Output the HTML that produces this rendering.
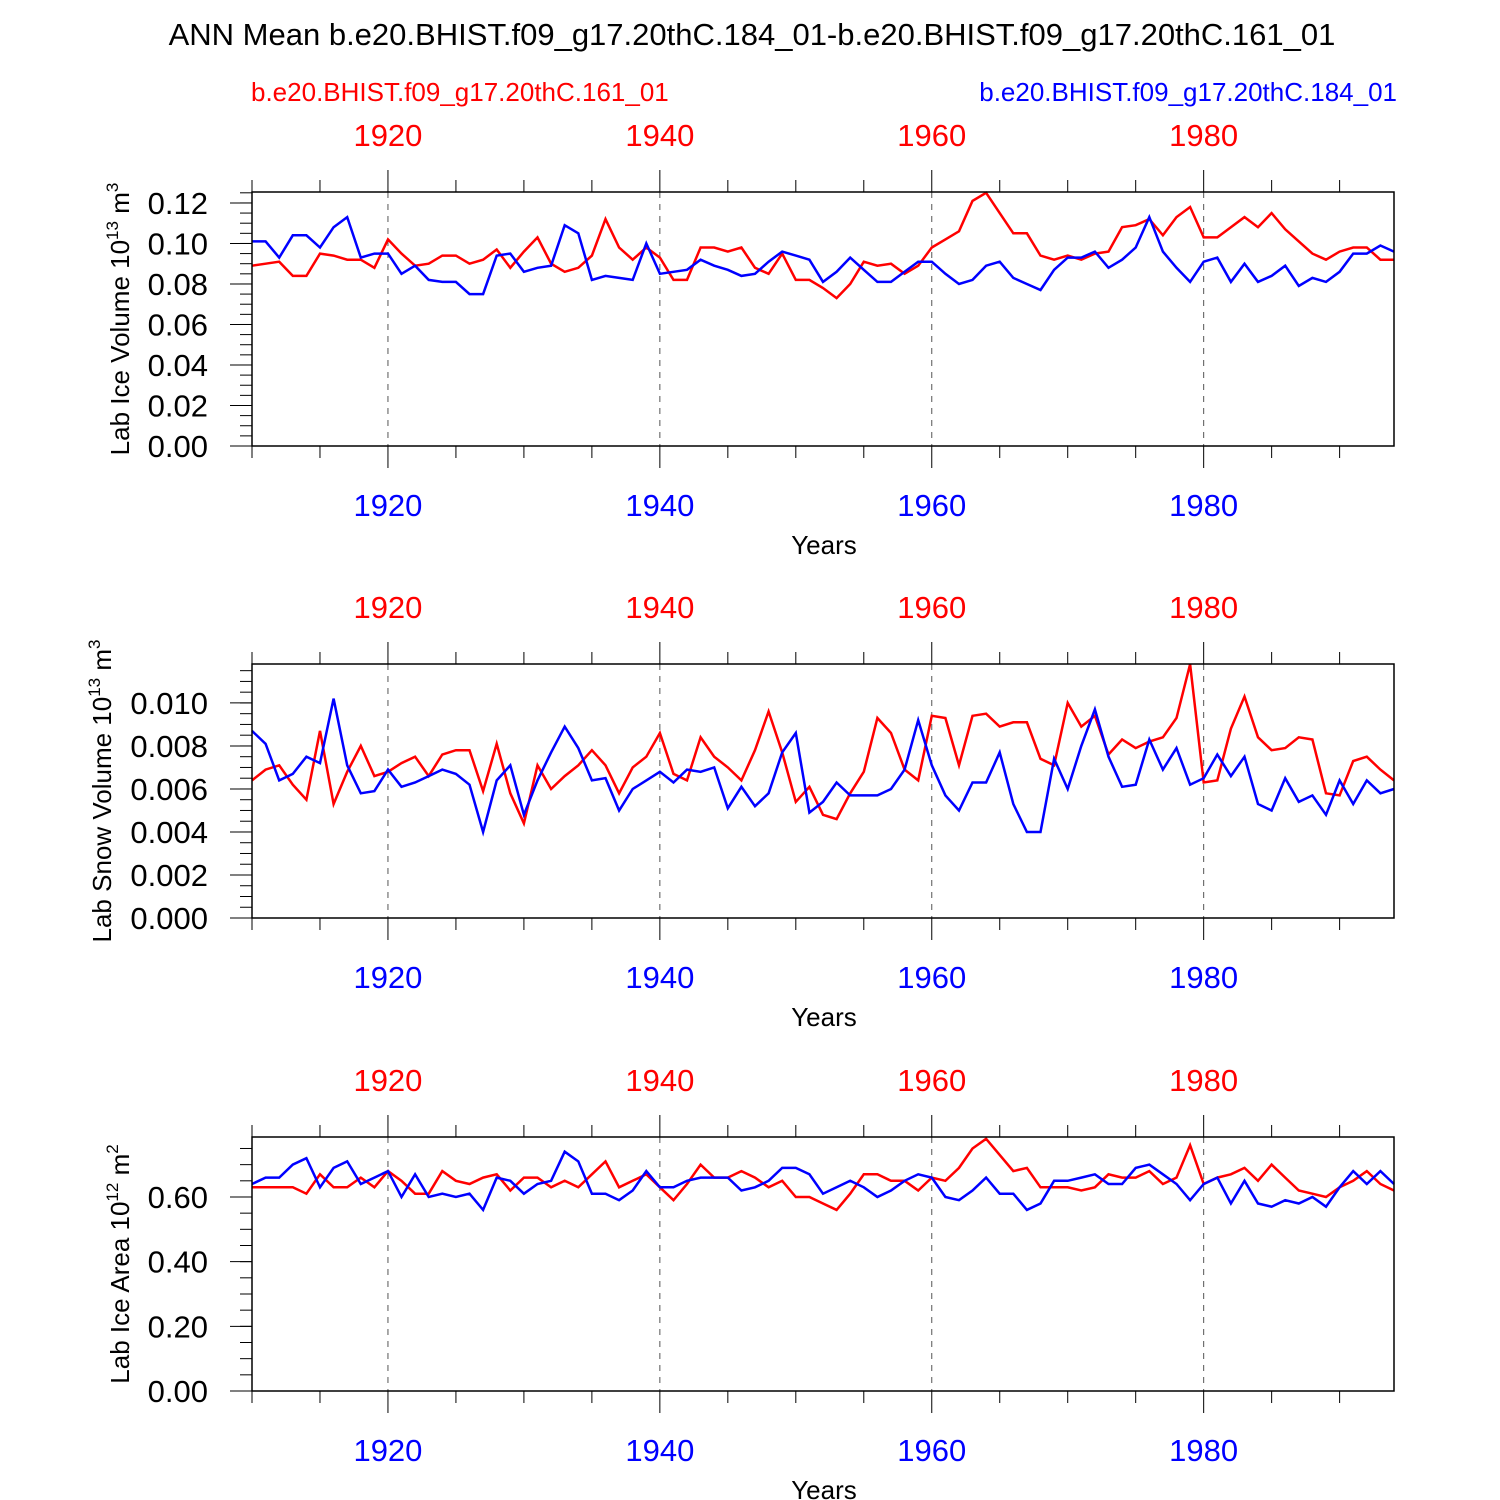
<!DOCTYPE html>
<html><head><meta charset="utf-8"><style>
body{margin:0;background:#fff}
svg{display:block;font-family:"Liberation Sans",Arial,sans-serif}
</style></head><body>
<svg id="chart" width="1500" height="1500" viewBox="0 0 1500 1500">
<text x="752" y="45" text-anchor="middle" font-size="31">ANN Mean b.e20.BHIST.f09_g17.20thC.184_01-b.e20.BHIST.f09_g17.20thC.161_01</text>
<text x="251" y="101" font-size="26" fill="#f00">b.e20.BHIST.f09_g17.20thC.161_01</text>
<text x="1397" y="101" font-size="26" fill="#00f" text-anchor="end">b.e20.BHIST.f09_g17.20thC.184_01</text>
</svg>
<script>
const years=[];for(let y=1910;y<=1994;y++)years.push(y);
const xTicks=[1920,1940,1960,1980];
const iceVolBlue=[.101,.101,.093,.104,.104,.098,.108,.113,.093,.095,
.095,.085,.089,.082,.081,.081,.075,.075,.094,.095,
.086,.088,.089,.109,.105,.082,.084,.083,.082,.100,
.085,.086,.087,.092,.089,.087,.084,.085,.091,.096,
.094,.092,.081,.086,.093,.087,.081,.081,.086,.091,
.091,.085,.080,.082,.089,.091,.083,.080,.077,.087,
.093,.093,.096,.088,.092,.098,.113,.096,.088,.081,
.091,.093,.081,.090,.081,.084,.089,.079,.083,.081,
.086,.095,.095,.099,.096];
const iceVolRed=[.089,.090,.091,.084,.084,.095,.094,.092,.092,.088,
.102,.095,.089,.090,.094,.094,.090,.092,.097,.088,
.096,.103,.090,.086,.088,.094,.112,.098,.092,.098,
.093,.082,.082,.098,.098,.096,.098,.088,.085,.095,
.082,.082,.078,.073,.080,.091,.089,.090,.085,.089,
.098,.102,.106,.121,.125,.115,.105,.105,.094,.092,
.094,.092,.095,.096,.108,.109,.112,.104,.113,.118,
.103,.103,.108,.113,.108,.115,.107,.101,.095,.092,
.096,.098,.098,.092,.092];
const snowBlue=[.0087,.0081,.0064,.0067,.0075,.0072,.0102,.0071,.0058,.0059,
.0069,.0061,.0063,.0066,.0069,.0067,.0062,.0040,.0064,.0071,
.0048,.0064,.0077,.0089,.0079,.0064,.0065,.0050,.0060,.0064,
.0068,.0063,.0069,.0068,.0070,.0051,.0061,.0052,.0058,.0077,
.0086,.0049,.0054,.0063,.0057,.0057,.0057,.0060,.0069,.0092,
.0071,.0057,.0050,.0063,.0063,.0077,.0053,.0040,.0040,.0074,
.0060,.0080,.0097,.0075,.0061,.0062,.0083,.0069,.0079,.0062,
.0065,.0076,.0066,.0075,.0053,.0050,.0065,.0054,.0057,.0048,
.0064,.0053,.0064,.0058,.0060];
const snowRed=[.0064,.0069,.0071,.0062,.0055,.0087,.0053,.0068,.0080,.0066,
.0068,.0072,.0075,.0066,.0076,.0078,.0078,.0059,.0081,.0058,
.0044,.0071,.0060,.0066,.0071,.0078,.0071,.0058,.0070,.0075,
.0086,.0067,.0064,.0084,.0075,.0070,.0064,.0078,.0096,.0077,
.0054,.0061,.0048,.0046,.0058,.0068,.0093,.0086,.0069,.0064,
.0094,.0093,.0071,.0094,.0095,.0089,.0091,.0091,.0074,.0071,
.0100,.0089,.0094,.0076,.0083,.0079,.0082,.0084,.0093,.0118,
.0063,.0064,.0088,.0103,.0084,.0078,.0079,.0084,.0083,.0058,
.0057,.0073,.0075,.0069,.0064];
const areaBlue=[.64,.66,.66,.70,.72,.63,.69,.71,.64,.66,
.68,.60,.67,.60,.61,.60,.61,.56,.66,.65,
.61,.64,.65,.74,.71,.61,.61,.59,.62,.68,
.63,.63,.65,.66,.66,.66,.62,.63,.65,.69,
.69,.67,.61,.63,.65,.63,.60,.62,.65,.67,
.66,.60,.59,.62,.66,.61,.61,.56,.58,.65,
.65,.66,.67,.64,.64,.69,.70,.67,.64,.59,
.64,.66,.58,.65,.58,.57,.59,.58,.60,.57,
.63,.68,.64,.68,.64];
const areaRed=[.63,.63,.63,.63,.61,.67,.63,.63,.66,.63,
.68,.65,.61,.61,.68,.65,.64,.66,.67,.62,
.66,.66,.63,.65,.63,.67,.71,.63,.65,.67,
.63,.59,.64,.70,.66,.66,.68,.66,.63,.65,
.60,.60,.58,.56,.61,.67,.67,.65,.65,.62,
.66,.65,.69,.75,.78,.73,.68,.69,.63,.63,
.63,.62,.63,.67,.66,.66,.68,.64,.66,.76,
.64,.66,.67,.69,.65,.70,.66,.62,.61,.60,
.63,.65,.68,.64,.62];
const p1Ticks=[0,0.02,0.04,0.06,0.08,0.10,0.12];
const p1Labels=["0.00","0.02","0.04","0.06","0.08","0.10","0.12"];
const p2Ticks=[0,0.002,0.004,0.006,0.008,0.010];
const p2Labels=["0.000","0.002","0.004","0.006","0.008","0.010"];
const p3Ticks=[0,0.2,0.4,0.6];
const p3Labels=["0.00","0.20","0.40","0.60"];

const NS="http://www.w3.org/2000/svg";
const svg=document.getElementById('chart');
const X0=252,X1=1394,YR0=1910,YR1=1994;
function xs(y){return X0+(y-YR0)/(YR1-YR0)*(X1-X0);}
function mk(tag,attrs,parent){const e=document.createElementNS(NS,tag);for(const k in attrs)e.setAttribute(k,attrs[k]);(parent||svg).appendChild(e);return e;}

const panels=[
 {top:192,bot:446,ymax:0.1254,ticks:p1Ticks,labels:p1Labels,minor:0.005,blue:iceVolBlue,red:iceVolRed,title:"Lab Ice Volume 10",sup:"13",unit:" m",usup:"3",tx:129,name:"ice-volume"},
 {top:664,bot:918,ymax:0.01181,ticks:p2Ticks,labels:p2Labels,minor:0.0005,blue:snowBlue,red:snowRed,title:"Lab Snow Volume 10",sup:"13",unit:" m",usup:"3",tx:111,name:"snow-volume"},
 {top:1137,bot:1391,ymax:0.7855,ticks:p3Ticks,labels:p3Labels,minor:0.05,blue:areaBlue,red:areaRed,title:"Lab Ice Area 10",sup:"12",unit:" m",usup:"2",tx:129,name:"ice-area"}
];
panels.forEach(p=>{
 const g=mk('g',{});
 
 
 const ys=v=>p.bot-v/p.ymax*(p.bot-p.top);
 xTicks.forEach(t=>{const l=mk('line',{x1:xs(t),x2:xs(t),y1:p.top,y2:p.bot,stroke:'#555','stroke-width':1,'stroke-dasharray':'6,6'},g);
  
  });
 for(let y=1910;y<=1994;y+=5){const maj=(y%20===0);const len=maj?22:12;
  mk('line',{x1:xs(y),x2:xs(y),y1:p.top-len,y2:p.top,stroke:'#000','stroke-width':1},g);
  mk('line',{x1:xs(y),x2:xs(y),y1:p.bot,y2:p.bot+len,stroke:'#000','stroke-width':1},g);}
 xTicks.forEach(t=>{
  const a=mk('text',{x:xs(t),y:p.top-46,'text-anchor':'middle','font-size':31,fill:'#f00'},g);a.textContent=t;
  
  
  const b=mk('text',{x:xs(t),y:p.bot+70,'text-anchor':'middle','font-size':31,fill:'#00f'},g);b.textContent=t;
  
  });
 const xt=mk('text',{x:824,y:p.bot+108,'text-anchor':'middle','font-size':26},g);xt.textContent='Years';
 
 
 for(let v=0;v<=p.ymax+1e-9;v+=p.minor){mk('line',{x1:X0-12,x2:X0,y1:ys(v),y2:ys(v),stroke:'#000','stroke-width':1},g);}
 p.ticks.forEach((v,i)=>{mk('line',{x1:X0-22,x2:X0,y1:ys(v),y2:ys(v),stroke:'#000','stroke-width':1},g);
  const t=mk('text',{x:208,y:ys(v)+11,'text-anchor':'end','font-size':31},g);t.textContent=p.labels[i];
  
  });
 const yt=mk('text',{transform:`translate(${p.tx},${(p.top+p.bot)/2}) rotate(-90)`,'text-anchor':'middle','font-size':26},g);
 
 
 yt.appendChild(document.createTextNode(p.title));
 const s1=mk('tspan',{'font-size':17,dy:-11},yt);s1.textContent=p.sup;
 const s2=mk('tspan',{dy:11},yt);s2.textContent=p.unit;
 const s3=mk('tspan',{'font-size':17,dy:-11},yt);s3.textContent=p.usup;
 [['red','#f00'],['blue','#00f']].forEach(([k,c])=>{
  const d=p[k].map((v,i)=>(i?'L':'M')+xs(years[i]).toFixed(1)+','+ys(v).toFixed(1)).join('');
  const path=mk('path',{d:d,fill:'none',stroke:c,'stroke-width':2.5,'stroke-linejoin':'miter'},g);
  
  });
 const fr=mk('rect',{x:X0,y:p.top,width:X1-X0,height:p.bot-p.top,fill:'none',stroke:'#000','stroke-width':1.5},g);
 
 
});
</script>
</body></html>
